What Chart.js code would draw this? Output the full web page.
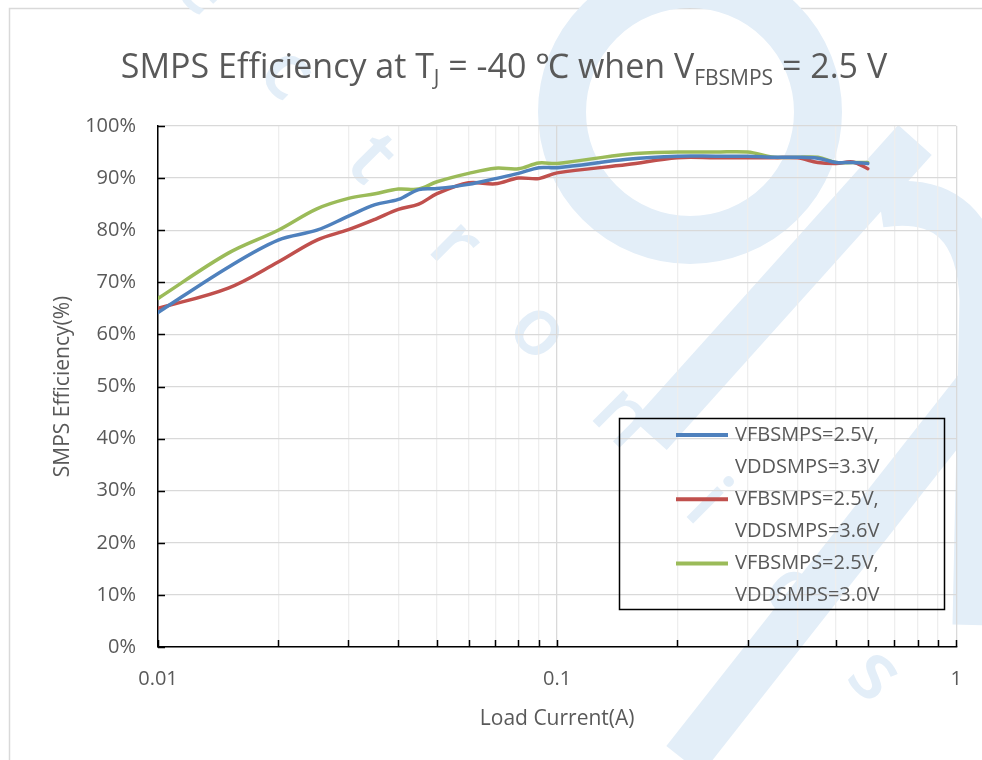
<!DOCTYPE html>
<html>
<head>
<meta charset="utf-8">
<script src="https://cdn.jsdelivr.net/npm/chart.js@4.4.1/dist/chart.umd.min.js"></script>
<style>
  html, body { margin: 0; padding: 0; background: #fff; }
  #wrap { width: 982px; height: 760px; }
</style>
</head>
<body>
<div id="wrap"><canvas id="chartSmps" width="982" height="760"></canvas></div>
<script>
// load current (A) for each measured point
var loadCurrent = [0.01, 0.015, 0.02, 0.025, 0.03, 0.035, 0.04, 0.045, 0.05, 0.06, 0.07, 0.08, 0.09,
                   0.1, 0.15, 0.2, 0.25, 0.3, 0.35, 0.4, 0.45, 0.5, 0.55, 0.6];
// efficiency (%) per series
var effVdd33 = [64.2, 72.9, 78.1, 80.0, 82.7, 84.9, 85.9, 87.8, 88.0, 88.8, 89.9, 90.9, 92.0,
                92.0, 93.6, 94.2, 94.2, 94.2, 94.0, 94.0, 93.8, 93.0, 93.0, 92.8];
var effVdd36 = [65.0, 68.9, 73.9, 78.1, 80.1, 82.1, 84.0, 85.0, 87.0, 89.1, 88.9, 90.0, 89.9,
                91.0, 92.6, 93.9, 93.9, 93.9, 93.9, 93.9, 93.0, 92.8, 93.1, 91.8];
var effVdd30 = [66.9, 75.6, 80.0, 84.1, 86.1, 87.0, 87.9, 87.9, 89.3, 90.9, 91.9, 91.8, 92.9,
                92.8, 94.6, 95.0, 95.0, 95.0, 94.0, 94.0, 94.0, 93.0, 93.0, 93.0];

var serieNomes = [
    ['VFBSMPS=2.5V,', 'VDDSMPS=3.3V'],
    ['VFBSMPS=2.5V,', 'VDDSMPS=3.6V'],
    ['VFBSMPS=2.5V,', 'VDDSMPS=3.0V']
];
var serieCores = ['#4f81bd', '#c0504d', '#9bbb59'];

// x grid (log minor lines) and which of them get a label
var xGrade = [0.01, 0.02, 0.03, 0.04, 0.05, 0.06, 0.07, 0.08, 0.09,
              0.1, 0.2, 0.3, 0.4, 0.5, 0.6, 0.7, 0.8, 0.9, 1];
var xRotulos = ['0.01', '0.1', '1'];
var yTicks = [0, 10, 20, 30, 40, 50, 60, 70, 80, 90, 100];

var corTexto = '#595959';
var fonte = '"Open Sans", "Noto Sans", sans-serif';

function pontos(ys){
    return loadCurrent.map(function(x, i){ return {x: x, y: ys[i]}; });
}

function ehMaior(v){
    return xRotulos.some(function(r){ return Math.abs(parseFloat(r) - v) < 1e-9; });
}

// fundo: moldura + marca d'agua
var marcaDagua = {
    id: 'marcaDagua',
    beforeDraw: function(chart){
        var c = chart.ctx;
        c.save();
        c.strokeStyle = '#d9d9d9';
        c.lineWidth = 1.5;
        c.strokeRect(9.5, 8.5, 1000, 800);

        c.strokeStyle = '#e3eef8';
        c.fillStyle = '#e3eef8';
        c.lineWidth = 48;
        c.beginPath();
        c.arc(690, 112, 128, 0, Math.PI * 2);
        c.stroke();

        c.lineWidth = 45;
        c.lineCap = 'butt';
        c.beginPath();
        c.moveTo(915, 140); c.lineTo(650, 435);
        c.stroke();
        c.beginPath();
        c.moveTo(880, 205); c.quadraticCurveTo(978, 190, 982, 300);
        c.lineTo(975, 625);
        c.stroke();
        c.beginPath();
        c.moveTo(1030, 320); c.lineTo(684, 760);
        c.stroke();

        var letras = ['e', 'c', 't', 'r', 'o', 'n', 'i', 'c', 's'];
        c.font = '600 80px ' + fonte;
        c.textAlign = 'center';
        c.textBaseline = 'middle';
        letras.forEach(function(l, k){
            c.save();
            c.translate(202 + k * 84, -12 + k * 86);
            c.rotate(Math.PI / 4);
            c.fillText(l, 0, 0);
            c.restore();
        });
        c.restore();
    }
};

// titulo com subscritos
var tituloSub = {
    id: 'tituloSub',
    afterDraw: function(chart){
        var c = chart.ctx;
        var partes = [
            {t: 'SMPS Efficiency at T', s: false},
            {t: 'J', s: true},
            {t: ' = -40 \u2103 when V', s: false},
            {t: 'FBSMPS', s: true},
            {t: ' = 2.5 V', s: false}
        ];
        var fNormal = '34px ' + fonte, fSub = '21px ' + fonte;
        c.save();
        var total = 0;
        partes.forEach(function(p){
            c.font = p.s ? fSub : fNormal;
            p.w = c.measureText(p.t).width;
            total += p.w;
        });
        var x = 504 - total / 2;
        c.fillStyle = corTexto;
        c.textBaseline = 'alphabetic';
        c.textAlign = 'left';
        partes.forEach(function(p){
            c.font = p.s ? fSub : fNormal;
            c.fillText(p.t, x, p.s ? 85 : 78);
            x += p.w;
        });
        c.restore();
    }
};

// marcas de escala para dentro + legenda em caixa
var marcasLegenda = {
    id: 'marcasLegenda',
    afterDraw: function(chart){
        var c = chart.ctx;
        var sx = chart.scales.x, sy = chart.scales.y;
        var a = chart.chartArea;
        c.save();
        c.strokeStyle = '#000';
        c.lineWidth = 1.5;
        c.beginPath();
        yTicks.forEach(function(v){
            var y = Math.round(sy.getPixelForValue(v)) + 0.5;
            c.moveTo(a.left, y); c.lineTo(a.left + 7, y);
        });
        xGrade.forEach(function(v){
            var x = Math.round(sx.getPixelForValue(v)) + 0.5;
            c.moveTo(x, a.bottom); c.lineTo(x, a.bottom - 7);
        });
        c.stroke();

        // legenda
        c.lineWidth = 1.5;
        c.strokeRect(619.5, 418.5, 325, 191);
        c.font = '20px ' + fonte;
        c.textBaseline = 'middle';
        c.textAlign = 'left';
        serieNomes.forEach(function(linhas, i){
            var y0 = 435 + i * 64.3;
            c.strokeStyle = serieCores[i];
            c.lineWidth = 4;
            c.beginPath();
            c.moveTo(676, y0); c.lineTo(728, y0);
            c.stroke();
            c.fillStyle = corTexto;
            linhas.forEach(function(t, j){
                c.fillText(t, 735, y0 + j * 32);
            });
        });
        c.restore();
    }
};

var ctx = document.getElementById('chartSmps');
var chartSmps = new Chart(ctx, {
    type: 'line',
    data: {
        datasets: [
            {label: serieNomes[0].join(' '), data: pontos(effVdd33), borderColor: serieCores[0]},
            {label: serieNomes[1].join(' '), data: pontos(effVdd36), borderColor: serieCores[1]},
            {label: serieNomes[2].join(' '), data: pontos(effVdd30), borderColor: serieCores[2]}
        ]
    },
    options: {
        responsive: false,
        animation: false,
        layout: { padding: { top: 126, right: 25, left: 0, bottom: 0 } },
        elements: {
            line: { borderWidth: 3.5, tension: 0.35, borderCapStyle: 'round', borderJoinStyle: 'round' },
            point: { radius: 0 }
        },
        plugins: {
            legend: { display: false },
            title: { display: false },
            tooltip: { enabled: false }
        },
        scales: {
            x: {
                type: 'logarithmic',
                min: 0.01,
                max: 1,
                afterBuildTicks: function(s){
                    s.ticks = xGrade.map(function(v){ return {value: v}; });
                },
                afterFit: function(s){ s.height = 113; },
                ticks: {
                    autoSkip: false,
                    maxRotation: 0,
                    padding: 20,
                    color: corTexto,
                    font: { size: 20, family: fonte },
                    callback: function(v){
                        for (var i = 0; i < xRotulos.length; i++){
                            if (Math.abs(parseFloat(xRotulos[i]) - v) < 1e-9) return xRotulos[i];
                        }
                        return '';
                    }
                },
                grid: {
                    drawTicks: false,
                    lineWidth: 1.3,
                    color: function(c){
                        return c.tick && ehMaior(c.tick.value) ? '#d9d9d9' : '#eeeeee';
                    }
                },
                border: { color: '#000', width: 1.5 },
                title: {
                    display: true,
                    text: 'Load Current(A)',
                    color: corTexto,
                    font: { size: 21, family: fonte },
                    padding: { top: 0, bottom: 28 }
                }
            },
            y: {
                min: 0,
                max: 100,
                afterBuildTicks: function(s){
                    s.ticks = yTicks.map(function(v){ return {value: v}; });
                },
                afterFit: function(s){ s.width = 158; },
                ticks: {
                    padding: 22,
                    color: corTexto,
                    font: { size: 20, family: fonte },
                    callback: function(v){ return v + '%'; }
                },
                grid: { drawTicks: false, color: '#d9d9d9', lineWidth: 1.3 },
                border: { color: '#000', width: 1.5 },
                title: {
                    display: true,
                    text: 'SMPS Efficiency(%)',
                    color: corTexto,
                    font: { size: 21, family: fonte },
                    padding: { top: 50, bottom: 0 }
                }
            }
        }
    },
    plugins: [marcaDagua, tituloSub, marcasLegenda]
});
</script>
</body>
</html>
